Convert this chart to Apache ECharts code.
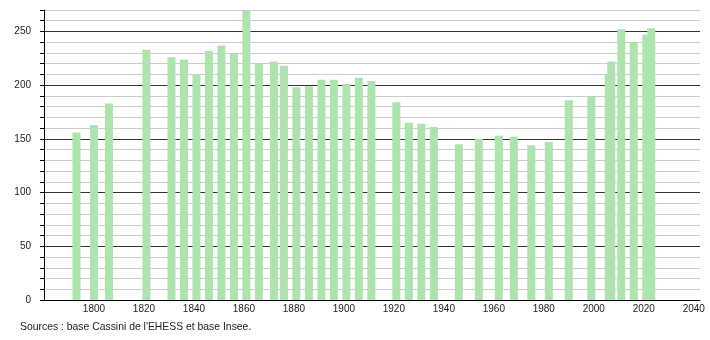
<!DOCTYPE html>
<html>
<head>
<meta charset="utf-8">
<script src="https://cdn.jsdelivr.net/npm/echarts@6/dist/echarts.min.js"></script>
<style>
html,body{margin:0;padding:0;background:#fff;}
#chart{width:710px;height:340px;}
</style>
</head>
<body>
<div id="chart"></div>
<script>
// Census years and population
var years = [1793, 1800, 1806, 1821, 1831, 1836, 1841, 1846, 1851, 1856, 1861, 1866, 1872, 1876, 1881, 1886, 1891, 1896, 1901, 1906, 1911, 1921, 1926, 1931, 1936, 1946, 1954, 1962, 1968, 1975, 1982, 1990, 1999, 2006, 2007, 2011, 2016, 2021, 2023];
var population = [156, 163, 183, 233, 226, 224, 210, 232, 237, 230, 269, 220, 222, 218, 198, 199, 205, 205, 201, 207, 204, 184, 165, 164, 161, 145, 150, 153, 152, 144, 147, 186, 189, 210, 222, 252, 240, 247, 253];
var yTickLabels = [0, 50, 100, 150, 200, 250];
var xTickLabels = [1800, 1820, 1840, 1860, 1880, 1900, 1920, 1940, 1960, 1980, 2000, 2020, 2040];
var sourceText = "Sources : base Cassini de l'EHESS et base Insee.";

var data = years.map(function (y, i) { return [y, population[i]]; });
var font = '"Liberation Sans", Arial, sans-serif';

var chart = echarts.init(document.getElementById('chart'), null, {renderer: 'canvas'});
chart.setOption({
  animation: false,
  backgroundColor: '#ffffff',
  grid: {left: 44, right: 10, top: 10, bottom: 40, containLabel: false},
  xAxis: {
    type: 'value',
    min: 1780,
    max: 2042.5,
    interval: 20,
    axisLine: {show: true, lineStyle: {color: '#000', width: 1}},
    axisTick: {show: false},
    splitLine: {show: false},
    axisLabel: {
      color: '#222', fontSize: 10, fontFamily: font, margin: 4,
      showMinLabel: false, showMaxLabel: true,
      formatter: function (v) { return xTickLabels.indexOf(v) >= 0 ? String(v) : ''; }
    }
  },
  yAxis: {
    type: 'value',
    min: 0,
    max: 270,
    interval: 10,
    axisLine: {show: true, lineStyle: {color: '#000', width: 1}},
    axisTick: {show: true, length: 4, lineStyle: {color: '#000'}},
    splitLine: {show: true, lineStyle: {color: ['#333', '#cccccc', '#cccccc', '#cccccc', '#cccccc'], width: 1}},
    axisLabel: {
      color: '#222', fontSize: 10, fontFamily: font, margin: 13,
      formatter: function (v) { return yTickLabels.indexOf(v) >= 0 ? String(v) : ''; }
    }
  },
  series: [{
    type: 'bar',
    data: data,
    barWidth: 8,
    itemStyle: {color: '#ade3ad'},
    silent: true
  }],
  graphic: [{
    type: 'text',
    left: 20,
    top: 322,
    style: {text: sourceText, fill: '#222', font: '10.4px ' + font}
  }]
});
</script>
</body>
</html>
